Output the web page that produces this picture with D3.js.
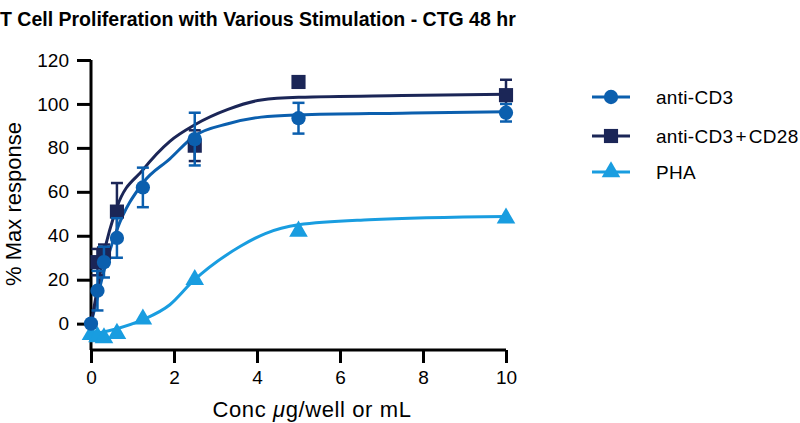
<!DOCTYPE html>
<html>
<head>
<meta charset="utf-8">
<script src="https://cdn.jsdelivr.net/npm/d3@7"></script>
<style>
  body { margin: 0; background: #fff; }
  text { font-family: "Liberation Sans", Arial, Helvetica, sans-serif; }
</style>
</head>
<body>
<script>
// concentrations (ug/well or mL)
var concCD3 = [0, 0.156, 0.3125, 0.625, 1.25, 2.5, 5, 10];
var cd3Mean = [0, 15, 28, 39, 62, 84, 93.5, 96];
var cd3Err  = [0, 9, 7, 9, 9, 12, 7, 4];

var concCD28 = [0.156, 0.3125, 0.625, 2.5, 5, 10];
var cd28Mean = [28, 32, 51, 81, 110, 104];
var cd28Err  = [6, 4, 13, 7, 0, 7];

var concPHA = [0, 0.156, 0.3125, 0.625, 1.25, 2.5, 5, 10];
var phaMean = [-5, -6, -6.5, -4.5, 2, 20, 42, 48];

// fitted curves
var fitX     = [0, 0.156, 0.3125, 0.625, 1.25, 1.9, 2.5, 3.3, 4.1, 5, 7.5, 10];
var fitCD3   = [0, 12, 24, 42.7, 64, 75, 85.5, 91, 94, 95, 95.8, 96.5];
var fitCD28  = [0, 16, 32, 53, 70, 83, 90.5, 97.5, 101.8, 103, 103.8, 104.4];
var fitPhaX  = [0.1, 0.625, 1.25, 1.9, 2.45, 3.6, 4.2, 5, 6.7, 10];
var fitPHA   = [-4.5, -2.3, 1.8, 8.6, 19.2, 35.2, 41, 45, 47.3, 48.8];

var yTicks = [0, 20, 40, 60, 80, 100, 120];
var xTicks = [0, 2, 4, 6, 8, 10];

var colCD3 = "#0b5fae", colCD28 = "#1b2657", colPHA = "#199de0";

var w = 800, h = 423;
var svg = d3.select("body").append("svg").attr("width", w).attr("height", h);

var x = d3.scaleLinear().domain([0, 10]).range([91, 506]);
var y = d3.scaleLinear().domain([-12, 120]).range([350, 60]);

// title
svg.append("text")
    .attr("x", 0).attr("y", 26)
    .attr("font-size", 19.5).attr("font-weight", "bold")
    .text("T Cell Proliferation with Various Stimulation - CTG 48 hr");

// axes
var yAxis = svg.append("g")
    .attr("transform", "translate(91,0)")
    .call(d3.axisLeft(y).tickValues(yTicks).tickSize(14).tickPadding(8));
var xAxis = svg.append("g")
    .attr("transform", "translate(0,350)")
    .call(d3.axisBottom(x).tickValues(xTicks).tickSize(13).tickPadding(8));
[xAxis, yAxis].forEach(function(g){
    g.attr("font-size", null).attr("font-family", null);
    g.select(".domain").attr("stroke", "#000").attr("stroke-width", 3);
    g.selectAll(".tick line").attr("stroke", "#000").attr("stroke-width", 3);
    g.selectAll(".tick text").attr("fill", "#000")
        .style("font-size", "19px");
});
yAxis.select(".domain").attr("d", "M0," + y(120) + "V350");
xAxis.select(".domain").attr("d", "M" + x(0) + ",0H" + x(10));

// axis titles
svg.append("text")
    .attr("transform", "translate(21,204) rotate(-90)")
    .attr("text-anchor", "middle")
    .style("font-size", "22px")
    .text("% Max response");
var xt = svg.append("text")
    .attr("x", 312).attr("y", 417)
    .attr("text-anchor", "middle")
    .style("font-size", "22px").style("letter-spacing", "0.6px");
xt.append("tspan").text("Conc ");
xt.append("tspan").attr("font-style", "italic").text("μ");
xt.append("tspan").text("g/well or mL");

var line = d3.line().curve(d3.curveMonotoneX);

// curves
svg.append("path")
    .attr("d", line(fitPhaX.map(function(v, i){ return [x(v), y(fitPHA[i])]; })))
    .attr("fill", "none").attr("stroke", colPHA).attr("stroke-width", 3);
svg.append("path")
    .attr("d", line(fitX.map(function(v, i){ return [x(v), y(fitCD3[i])]; })))
    .attr("fill", "none").attr("stroke", colCD3).attr("stroke-width", 3);
svg.append("path")
    .attr("d", line(fitX.map(function(v, i){ return [x(v), y(fitCD28[i])]; })))
    .attr("fill", "none").attr("stroke", colCD28).attr("stroke-width", 3);

function errorBars(xs, ms, es, col){
    var g = svg.append("g").attr("stroke", col).attr("stroke-width", 2.5);
    xs.forEach(function(v, i){
        if (!es[i]) return;
        var cx = x(v), y1 = y(ms[i] + es[i]), y2 = y(ms[i] - es[i]);
        g.append("line").attr("x1", cx).attr("x2", cx).attr("y1", y1).attr("y2", y2);
        g.append("line").attr("x1", cx - 6).attr("x2", cx + 6).attr("y1", y1).attr("y2", y1);
        g.append("line").attr("x1", cx - 6).attr("x2", cx + 6).attr("y1", y2).attr("y2", y2);
    });
}

var sym = {
    circle: d3.symbol().type(d3.symbolCircle).size(160),
    square: d3.symbol().type(d3.symbolSquare).size(200),
    triangle: d3.symbol().type(d3.symbolTriangle).size(150)
};

function points(xs, ms, shape, col){
    svg.append("g").selectAll("path")
        .data(xs)
        .enter()
        .append("path")
        .attr("transform", function(d, i){ return "translate(" + x(d) + "," + y(ms[i]) + ")"; })
        .attr("d", sym[shape])
        .attr("fill", col);
}

points(concPHA, phaMean, "triangle", colPHA);
errorBars(concCD28, cd28Mean, cd28Err, colCD28);
points(concCD28, cd28Mean, "square", colCD28);
errorBars(concCD3, cd3Mean, cd3Err, colCD3);
points(concCD3, cd3Mean, "circle", colCD3);

// legend
var legend = [
    {name: ["anti-CD3"], col: colCD3, shape: "circle", y: 97},
    {name: ["anti-CD3", "+", "CD28"], col: colCD28, shape: "square", y: 136},
    {name: ["PHA"], col: colPHA, shape: "triangle", y: 172}
];
legend.forEach(function(d){
    svg.append("line")
        .attr("x1", 592).attr("x2", 630).attr("y1", d.y).attr("y2", d.y)
        .attr("stroke", d.col).attr("stroke-width", 3);
    svg.append("path")
        .attr("transform", "translate(611," + d.y + ")")
        .attr("d", sym[d.shape])
        .attr("fill", d.col);
    var t = svg.append("text")
        .attr("x", 656).attr("y", d.y + 7)
        .style("font-size", "19px").style("letter-spacing", "0.3px");
    d.name.forEach(function(s, i){
        t.append("tspan").attr("dx", i ? 2 : 0).text(s);
    });
});
</script>
</body>
</html>
